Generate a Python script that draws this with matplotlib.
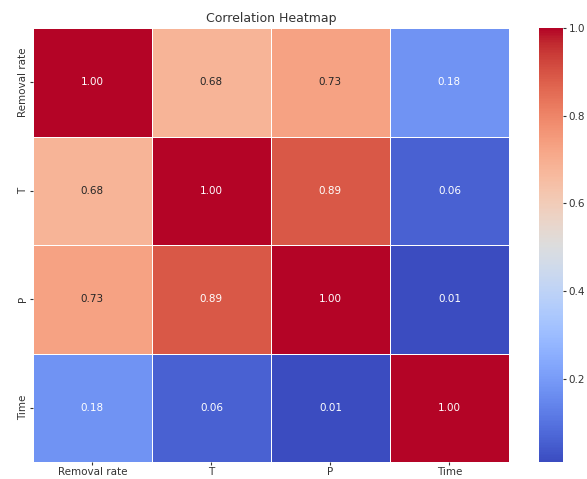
import numpy as np
import pandas as pd
import seaborn as sns
import matplotlib
matplotlib.use("Agg")
import matplotlib.pyplot as plt

labels = ["Removal rate", "T", "P", "Time"]
row_removal = [1.00, 0.68, 0.73, 0.18]
row_t = [0.68, 1.00, 0.89, 0.06]
row_p = [0.73, 0.89, 1.00, 0.01]
row_time = [0.18, 0.06, 0.01, 1.00]

corr = pd.DataFrame([row_removal, row_t, row_p, row_time], index=labels, columns=labels)

fig = plt.figure(figsize=(5.87, 4.79), dpi=100)
ax = fig.add_axes([0.056, 0.0355, 0.811, 0.906])
cax = fig.add_axes([0.918, 0.0355, 0.041, 0.906])

sns.heatmap(corr, annot=True, fmt=".2f", cmap="coolwarm", linewidths=0.5,
            linecolor="white", ax=ax, cbar_ax=cax,
            annot_kws={"fontsize": 7.5})
ax.set_title("Correlation Heatmap", fontsize=9, color="#333333", pad=4)
ax.tick_params(labelsize=7.5, colors="#333333", length=2.5, pad=1)
cax.tick_params(labelsize=7.5, colors="#333333", length=2.5, pad=1.5)
for lbl in ax.get_yticklabels():
    lbl.set_rotation(90)
    lbl.set_va("center")

fig.savefig("out.png", dpi=100)
